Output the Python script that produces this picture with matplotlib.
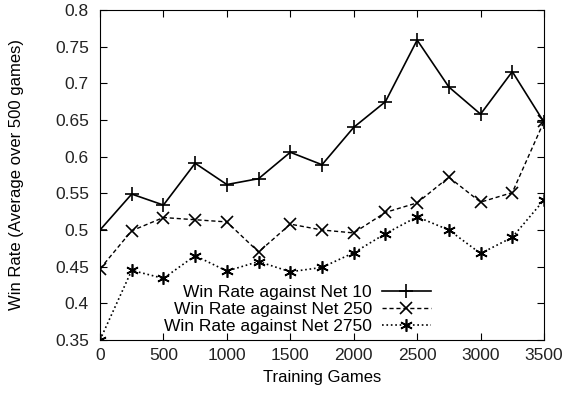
import numpy as np
import matplotlib as mpl
import matplotlib.pyplot as plt

mpl.rcParams.update({'font.family': ['Liberation Sans', 'DejaVu Sans']})
mpl.rcParams.update({'font.size': 12})

games = [0, 250, 500, 750, 1000, 1250, 1500, 1750, 2000, 2250, 2500, 2750, 3000, 3250, 3500]
net10 = [0.500, 0.549, 0.534, 0.591, 0.562, 0.570, 0.606, 0.589, 0.640, 0.675, 0.759, 0.695, 0.658, 0.716, 0.647]
net250 = [0.447, 0.499, 0.517, 0.514, 0.511, 0.470, 0.508, 0.500, 0.496, 0.524, 0.537, 0.572, 0.538, 0.551, 0.648]
net2750 = [0.350, 0.445, 0.434, 0.465, 0.444, 0.457, 0.443, 0.449, 0.469, 0.495, 0.518, 0.500, 0.468, 0.490, 0.541]

xticks = [0, 500, 1000, 1500, 2000, 2500, 3000, 3500]
yticks = [0.35, 0.4, 0.45, 0.5, 0.55, 0.6, 0.65, 0.7, 0.75, 0.8]
yticklabels = ['0.35', '0.4', '0.45', '0.5', '0.55', '0.6', '0.65', '0.7', '0.75', '0.8']

fig = plt.figure(figsize=(5.68, 3.93), dpi=100)
ax = fig.add_axes([100/568, 1-340/393, 444/568, 330/393])

ax.plot(games, net10, '-k', marker='+', ms=9.5, mew=1.2, lw=1.2, label='Win Rate against Net 10')
ax.plot(games, net250, '--k', marker='x', ms=8, mew=1.2, lw=1.0, dashes=(3, 2), label='Win Rate against Net 250')
ax.plot(games, net2750, ':k', marker=(6, 2, 0), ms=9, mew=1.2, lw=1.2, label='Win Rate against Net 2750')

ax.set_xlim(0, 3500)
ax.set_ylim(0.35, 0.8)
ax.set_xticks(xticks)
ax.set_yticks(yticks)
ax.set_yticklabels(yticklabels)
ax.tick_params(direction='in', top=True, right=True, length=5, colors='black',
               labelcolor='#222222', labelsize=12.5)
ax.tick_params(axis='y', pad=8)
ax.tick_params(axis='x', pad=6)
ax.set_xlabel('Training Games', labelpad=5)
ax.set_ylabel('Win Rate (Average over 500 games)', labelpad=22)

# markerfirst=False -> rows right-aligned, gnuplot style
leg = ax.legend(loc='lower right', bbox_to_anchor=(0.745, 0.018), frameon=False, markerfirst=False,
                borderpad=0, borderaxespad=0, fontsize=12.5,
                handlelength=2.8, labelspacing=0.12, handletextpad=0.6)

fig.savefig('out.png', dpi=100)
